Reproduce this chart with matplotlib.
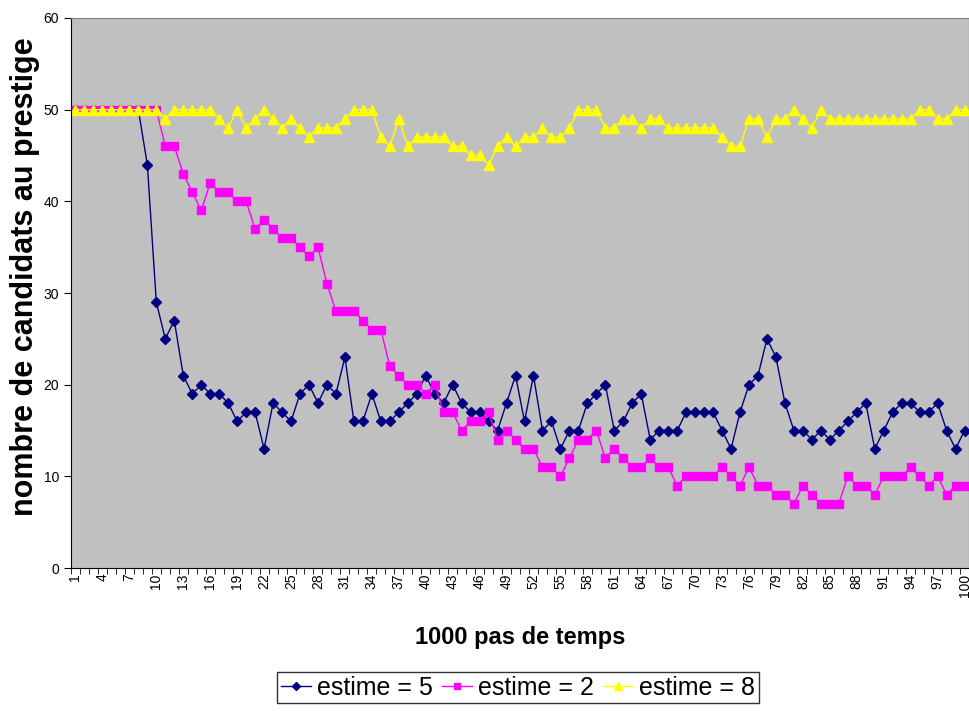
import numpy as np
import matplotlib.pyplot as plt

plt.rcParams['font.family'] = ['Liberation Sans', 'DejaVu Sans']

steps = np.arange(1, 101)

estime5 = [50, 50, 50, 50, 50, 50, 50, 50, 44, 29,
           25, 27, 21, 19, 20, 19, 19, 18, 16, 17,
           17, 13, 18, 17, 16, 19, 20, 18, 20, 19,
           23, 16, 16, 19, 16, 16, 17, 18, 19, 21,
           19, 18, 20, 18, 17, 17, 16, 15, 18, 21,
           16, 21, 15, 16, 13, 15, 15, 18, 19, 20,
           15, 16, 18, 19, 14, 15, 15, 15, 17, 17,
           17, 17, 15, 13, 17, 20, 21, 25, 23, 18,
           15, 15, 14, 15, 14, 15, 16, 17, 18, 13,
           15, 17, 18, 18, 17, 17, 18, 15, 13, 15]

estime2 = [50, 50, 50, 50, 50, 50, 50, 50, 50, 50,
           46, 46, 43, 41, 39, 42, 41, 41, 40, 40,
           37, 38, 37, 36, 36, 35, 34, 35, 31, 28,
           28, 28, 27, 26, 26, 22, 21, 20, 20, 19,
           20, 17, 17, 15, 16, 16, 17, 14, 15, 14,
           13, 13, 11, 11, 10, 12, 14, 14, 15, 12,
           13, 12, 11, 11, 12, 11, 11, 9, 10, 10,
           10, 10, 11, 10, 9, 11, 9, 9, 8, 8,
           7, 9, 8, 7, 7, 7, 10, 9, 9, 8,
           10, 10, 10, 11, 10, 9, 10, 8, 9, 9]

estime8 = [50, 50, 50, 50, 50, 50, 50, 50, 50, 50,
           49, 50, 50, 50, 50, 50, 49, 48, 50, 48,
           49, 50, 49, 48, 49, 48, 47, 48, 48, 48,
           49, 50, 50, 50, 47, 46, 49, 46, 47, 47,
           47, 47, 46, 46, 45, 45, 44, 46, 47, 46,
           47, 47, 48, 47, 47, 48, 50, 50, 50, 48,
           48, 49, 49, 48, 49, 49, 48, 48, 48, 48,
           48, 48, 47, 46, 46, 49, 49, 47, 49, 49,
           50, 49, 48, 50, 49, 49, 49, 49, 49, 49,
           49, 49, 49, 49, 50, 50, 49, 49, 50, 50]

fig = plt.figure(figsize=(9.7, 7.11), dpi=100)
ax = fig.add_axes([0.0732, 0.2011, 0.9258, 0.7736])
ax.set_facecolor('#C0C0C0')

ax.plot(steps, estime5, color='#000080', lw=1, marker='D', ms=5, label='estime = 5')
ax.plot(steps, estime2, color='#FF00FF', lw=1, marker='s', ms=5.5, label='estime = 2')
ax.plot(steps, estime8, color='#FFFF00', lw=1, marker='^', ms=6.5, label='estime = 8')

ax.set_xlim(0.5, 100.5)
ax.set_ylim(0, 60)
ax.set_yticks(np.arange(0, 61, 10))
ax.set_xticks(steps[::3])
ax.set_xticks(np.arange(0.5, 101, 1), minor=True)
ax.tick_params(axis='x', which='major', length=0, labelrotation=90, labelsize=10, pad=4)
ax.tick_params(axis='x', which='minor', length=4, direction='out', color='black')
ax.tick_params(axis='y', length=5, labelsize=10, color='black')

for s in ['top', 'right']:
    ax.spines[s].set_color('#808080')
for s in ['left', 'bottom']:
    ax.spines[s].set_color('black')

ax.set_xlabel('1000 pas de temps', fontsize=17, fontweight='bold')
ax.xaxis.set_label_coords(0.5, -0.105)
ax.set_ylabel('nombre de candidats au prestige', fontsize=22, fontweight='bold')
ax.yaxis.set_label_coords(-0.035, 0.53)

leg = fig.legend(loc='upper center', bbox_to_anchor=(0.534, 0.055), ncol=3, fontsize=18,
                 frameon=True, fancybox=False, edgecolor='black', handlelength=1.2,
                 handletextpad=0.25, columnspacing=0.35, borderpad=0.15,
                 borderaxespad=0, markerscale=0.8)
leg.get_frame().set_linewidth(1)

fig.savefig('out.png', dpi=100)
